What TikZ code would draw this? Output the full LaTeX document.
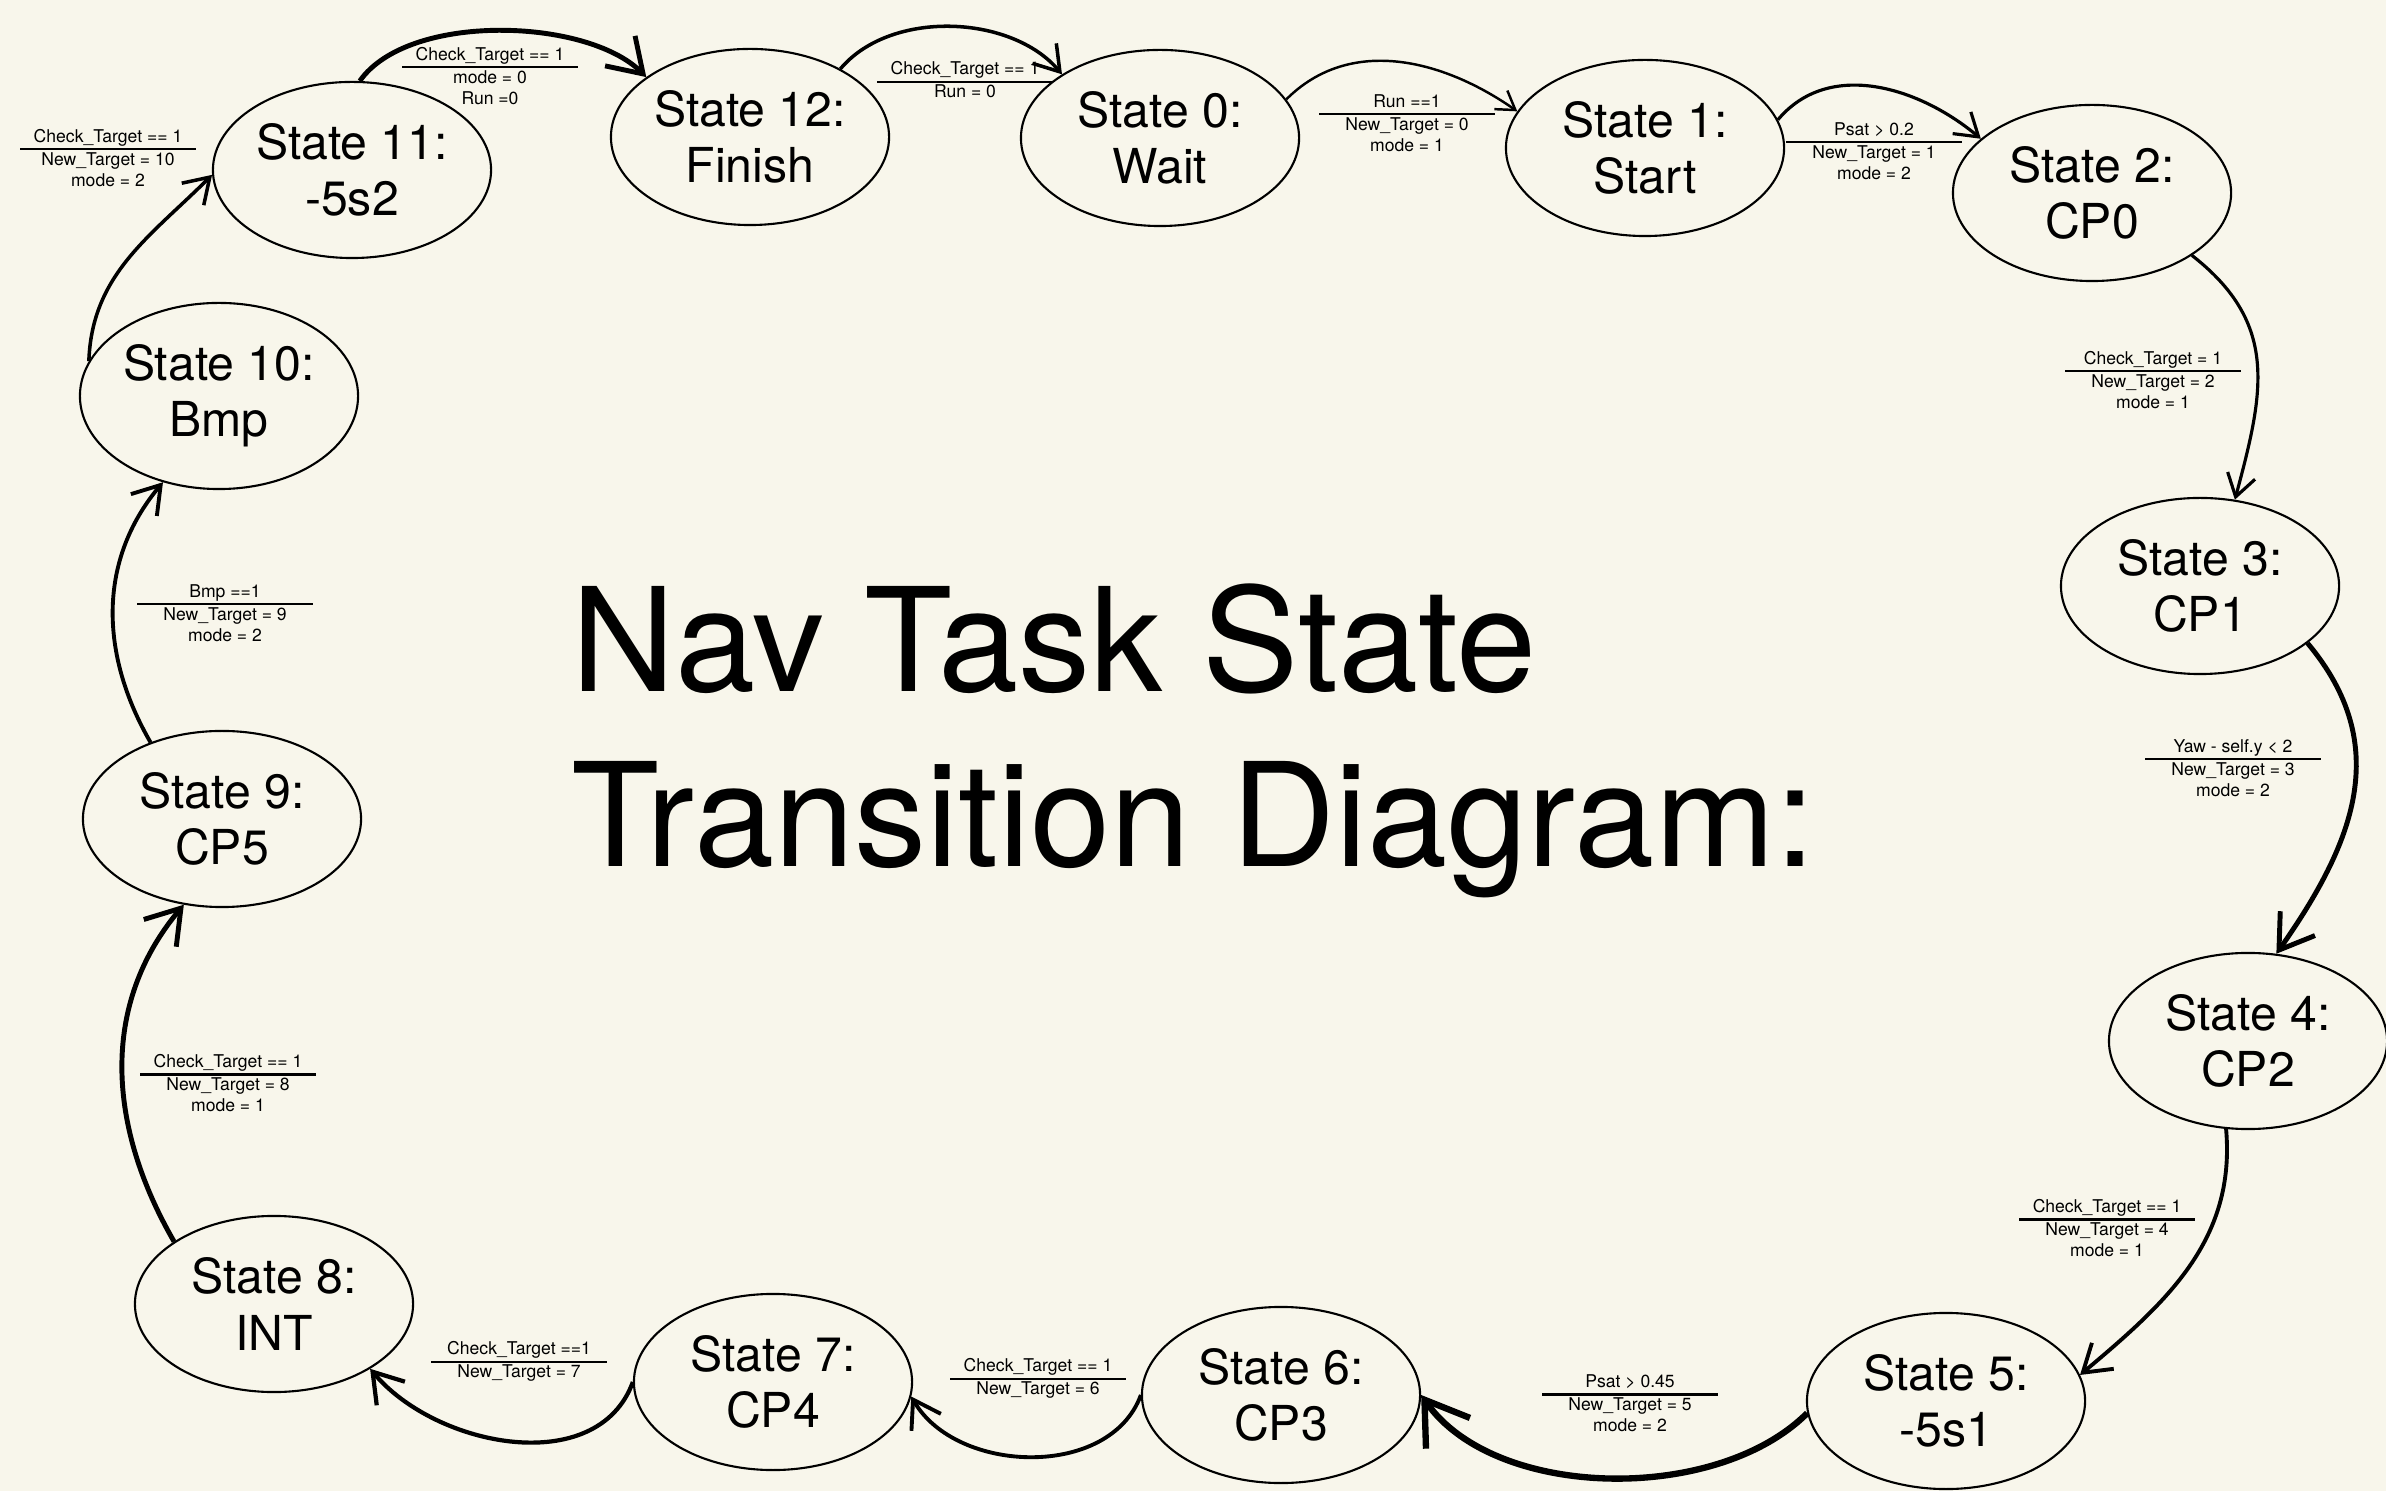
\documentclass[tikz,border=0pt]{standalone}
\usepackage{fontspec}
\setmainfont{TeX Gyre Heros}
\usetikzlibrary{shapes,arrows.meta}
\definecolor{paper}{RGB}{248,246,235}
% condition over the rule, actions below it
\newcommand{\cond}[2]{{\setlength{\arrayrulewidth}{0.6pt}\begin{tabular}{@{}c@{}}\makebox[1.75cm]{#1}\\\hline #2\end{tabular}}}

\begin{document}
\begin{tikzpicture}[x=0.01cm, y=0.01cm,
  state/.style={ellipse, draw, line width=0.6pt, minimum width=2.78cm, minimum height=1.76cm, inner sep=0pt, align=center, font=\fontsize{13.7}{16}\selectfont},
  lbl/.style={inner sep=0pt, font=\fontsize{5}{6}\selectfont},
  title/.style={anchor=base west, inner sep=0pt, font=\fontsize{41}{50}\selectfont},
  tr/.style={-{Straight Barb[length=0.3mm 6, width=0.3mm 8]}}]
  \fill[paper] (0,0) rectangle (2386,1491);
  \useasboundingbox (0,0) rectangle (2386,1491);

  % states
  \node[state] (s0)  at (1160,1353) {State 0:\\Wait};
  \node[state] (s1)  at (1645,1343) {State 1:\\Start};
  \node[state] (s2)  at (2092,1298) {State 2:\\CP0};
  \node[state] (s3)  at (2200,905)  {State 3:\\CP1};
  \node[state] (s4)  at (2248,450)  {State 4:\\CP2};
  \node[state] (s5)  at (1946,90)   {State 5:\\-5s1};
  \node[state] (s6)  at (1281,96)   {State 6:\\CP3};
  \node[state] (s7)  at (773,109)   {State 7:\\CP4};
  \node[state] (s8)  at (274,187)   {State 8:\\INT};
  \node[state] (s9)  at (222,672)   {State 9:\\CP5};
  \node[state, minimum height=1.86cm] (s10) at (219,1095) {State 10:\\Bmp};
  \node[state] (s11) at (352,1321)  {State 11:\\-5s2};
  \node[state] (s12) at (750,1354)  {State 12:\\Finish};

  \node[title] (title1) at (571,799) {Nav Task State};
  \node[title] (title2) at (571,624) {Transition Diagram:};

  % transitions
  \draw[tr, line width=0.7pt] (s0.17) to[out=45, in=145] (s1.164);
  \draw[tr, line width=0.9pt] (s1.12) to[out=50, in=140] (s2.154);
  \draw[tr, line width=0.9pt] (s2.-32) to[out=-38, in=75, looseness=1.15] (s3.68);
  \draw[tr, line width=1.4pt] (s3.-28) to[out=-50, in=55, looseness=1.1] (s4.72);
  \draw[tr, line width=1.1pt] (s4.-104) to[out=-85, in=40] (s5.11);
  \draw[tr, line width=1.8pt] (s5.185) to[out=-135, in=-55, looseness=0.85] (s6.0);
  \draw[tr, line width=1.1pt] (s6.180) to[out=-110, in=-60] (s7.-6);
  \draw[tr, line width=1.2pt] (s7.180) to[out=-110, in=-50] (s8.-34);
  \draw[tr, line width=1.4pt] (s8.148) to[out=120, in=-130] (s9.-114);
  \draw[tr, line width=1.1pt] (s9.133) to[out=120, in=-130] (s10.-123);
  \draw[tr, line width=1pt] (s10.165) to[out=88, in=225] (s11.182);
  \draw[tr, line width=1.4pt] (s11.85) to[out=55, in=135, looseness=0.75] (s12.150);
  \draw[tr, line width=1pt] (s12.37) to[out=50, in=130, looseness=0.9] (s0.147);

  % conditions
  \node[lbl] (c1)  at (1407,1366) {\cond{Run ==1}{New\_Target = 0\\mode = 1}};
  \node[lbl] (c2)  at (1874,1338) {\cond{Psat > 0.2}{New\_Target = 1\\mode = 2}};
  \node[lbl] (c3)  at (2153,1109) {\cond{Check\_Target = 1}{New\_Target = 2\\mode = 1}};
  \node[lbl] (c4)  at (2233,721)  {\cond{Yaw - self.y < 2}{New\_Target = 3\\mode = 2}};
  \node[lbl] (c5)  at (2107,261)  {\cond{Check\_Target == 1}{New\_Target = 4\\mode = 1}};
  \node[lbl] (c6)  at (1630,86)   {\cond{Psat > 0.45}{New\_Target = 5\\mode = 2}};
  \node[lbl] (c7)  at (1038,112)  {\cond{Check\_Target == 1}{New\_Target = 6}};
  \node[lbl] (c8)  at (519,129)   {\cond{Check\_Target ==1}{New\_Target = 7}};
  \node[lbl] (c9)  at (228,406)   {\cond{Check\_Target == 1}{New\_Target = 8\\mode = 1}};
  \node[lbl] (c10) at (225,876)   {\cond{Bmp ==1}{New\_Target = 9\\mode = 2}};
  \node[lbl] (c11) at (108,1331)  {\cond{Check\_Target == 1}{New\_Target = 10\\mode = 2}};
  \node[lbl] (c12) at (490,1413)  {\cond{Check\_Target == 1}{mode = 0\\Run =0}};
  \node[lbl] (c0)  at (965,1409)  {\cond{Check\_Target == 1}{Run = 0}};
\end{tikzpicture}
\end{document}
